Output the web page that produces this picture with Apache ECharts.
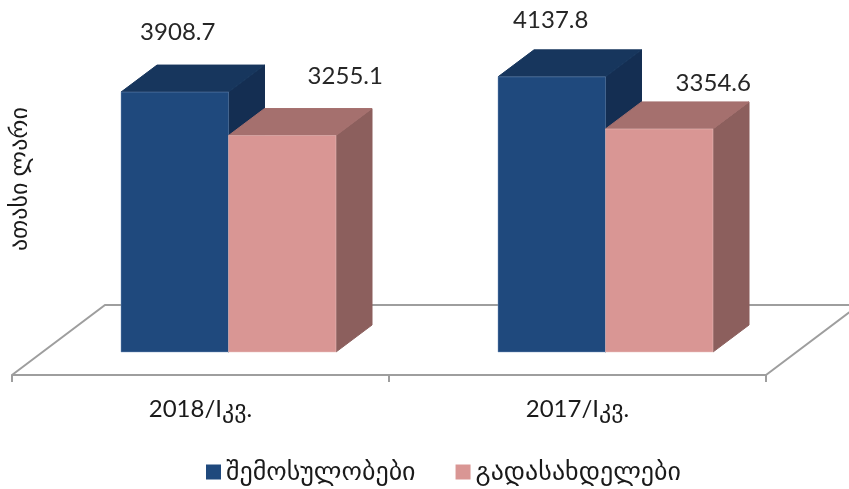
<!DOCTYPE html>
<html><head><meta charset="utf-8">
<style>html,body{margin:0;padding:0;background:#fff}#c{width:849px;height:489px}</style>
<script src="https://cdn.jsdelivr.net/npm/echarts@6/dist/echarts.min.js"></script>
</head><body><div id="c"></div>
<script>
const categories = ['2018/Iკვ.', '2017/Iკვ.'];
const seriesNames = ['შემოსულობები', 'გადასახდელები'];
const revenue = [3908.7, 4137.8];
const payments = [3255.1, 3354.6];
const axisTitle = 'ათასი ლარი';

const DEPTH_X = 36, DEPTH_Y = 27, BAR_W = 107.5, SHIFT = 28;
const FLOOR_X = 93, FLOOR_Y = 70, AXIS_OFFSET = 23;
const LABEL_FONT = '24px Lato, "Open Sans", sans-serif';
const GEO_FONT = 'Lato, "DejaVu Sans", "Noto Sans", sans-serif';
const LINE = '#9e9e9e';
const palettes = [
  {front:'#1f497d', top:'#17365d', side:'#142e52', edge:'rgba(120,150,190,0.45)'},
  {front:'#d99694', top:'#a5706e', side:'#8c5f5d', edge:'rgba(235,195,194,0.5)'}
];
const labelOffsets = [
  [[3, -60], [-1, -57]],
  [[63, -59], [54, -46]]
];

function barRenderer(s) {
  return function (params, api) {
    const i = api.value(0), v = api.value(1);
    const top = api.coord([i, v]), base = api.coord([i, 0]);
    const x0 = top[0] + SHIFT - BAR_W + s * BAR_W, x1 = x0 + BAR_W;
    const yt = top[1], yb = base[1];
    const p = palettes[s];
    const off = labelOffsets[s][i];
    const poly = (pts, fill, stroke) => ({type:'polygon', shape:{points:pts},
      style:{fill:fill, stroke:stroke || fill, lineWidth:1}});
    return {type:'group', children:[
      poly([[x1,yt],[x1+DEPTH_X,yt-DEPTH_Y],[x1+DEPTH_X,yb-DEPTH_Y],[x1,yb]], p.side),
      poly([[x0,yt],[x1,yt],[x1+DEPTH_X,yt-DEPTH_Y],[x0+DEPTH_X,yt-DEPTH_Y]], p.top),
      poly([[x0,yt],[x1,yt],[x1,yb],[x0,yb]], p.front, p.edge),
      {type:'text', style:{text:api.value(1).toFixed(1), x:(x0+x1)/2+off[0], y:yt+off[1],
        align:'center', verticalAlign:'middle', font:LABEL_FONT, fill:'#262626'}}
    ]};
  };
}
function floorRenderer(params) {
  const c = params.coordSys;
  const yf = c.y + c.height + AXIS_OFFSET;
  return {type:'polyline', shape:{points:[
      [c.x, yf],[c.x+FLOOR_X, yf-FLOOR_Y],[c.x+c.width+FLOOR_X, yf-FLOOR_Y],[c.x+c.width, yf]]},
    style:{fill:'none', stroke:LINE, lineWidth:2}};
}

const chart = echarts.init(document.getElementById('c'), null, {renderer:'canvas'});
chart.setOption({
  animation:false, backgroundColor:'#fff',
  grid:{left:12, width:754, top:6.2, height:345.8, containLabel:false, outerBoundsMode:'none'},
  legend:{data:seriesNames, left:201, top:454, itemWidth:15, itemHeight:15, itemGap:40,
    icon:'rect', textStyle:{fontFamily:GEO_FONT, fontSize:26, color:'#1a1a1a'}},
  xAxis:{type:'category', data:categories, offset:AXIS_OFFSET,
    axisLine:{onZero:false, lineStyle:{color:LINE, width:2}},
    axisTick:{show:true, length:7, alignWithLabel:false, lineStyle:{color:LINE, width:2}},
    axisLabel:{margin:22, fontFamily:GEO_FONT, fontSize:24, color:'#1a1a1a'}},
  yAxis:{type:'value', min:0, max:5200, name:axisTitle, nameLocation:'middle', nameRotate:90, nameGap:-19,
    nameTextStyle:{fontFamily:GEO_FONT, fontSize:24, color:'#1a1a1a'},
    axisLine:{show:false}, axisTick:{show:false}, axisLabel:{show:false}, splitLine:{show:false}},
  series:[
    {type:'custom', name:'floor', silent:true, renderItem:floorRenderer, data:[[0,0]], encode:{x:0,y:1}, z:1},
    {type:'custom', name:seriesNames[0], renderItem:barRenderer(0), itemStyle:{color:palettes[0].front},
      data:revenue.map((v,i)=>[i,v]), encode:{x:0,y:1}, z:2},
    {type:'custom', name:seriesNames[1], renderItem:barRenderer(1), itemStyle:{color:palettes[1].front},
      data:payments.map((v,i)=>[i,v]), encode:{x:0,y:1}, z:3}
  ]
});
</script></body></html>
